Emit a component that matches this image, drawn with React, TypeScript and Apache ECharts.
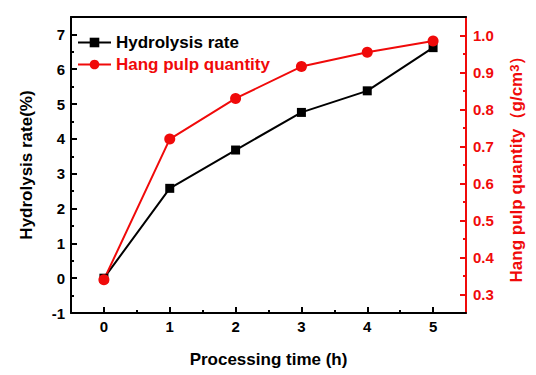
import React, { useEffect, useRef } from "react";
import * as echarts from "echarts";

const times = [0, 1, 2, 3, 4, 5];
const hydrolysisRate = [0, 2.58, 3.68, 4.76, 5.38, 6.62];
const hangPulp = [0.34, 0.72, 0.83, 0.916, 0.955, 0.985];
const xTicks = [0, 1, 2, 3, 4, 5];
const xMinorTicks = [0.5, 1.5, 2.5, 3.5, 4.5];
const rightTicks = [0.3, 0.4, 0.5, 0.6, 0.7, 0.8, 0.9, 1.0];
const rightMinorTicks = [0.35, 0.45, 0.55, 0.65, 0.75, 0.85, 0.95];

const FONT = "'Liberation Sans', Arial, sans-serif";
const RED = "#f00a0a";

export default function App() {
  const ref = useRef<HTMLDivElement>(null);
  useEffect(() => {
    document.body.style.margin = "0";
    const chart = echarts.init(ref.current!, null, { renderer: "svg" });
    const tickLabel = { fontFamily: FONT, fontWeight: "bold" as const, fontSize: 15, color: "#000" };
    chart.setOption({
      animation: false,
      backgroundColor: "#fff",
      textStyle: { fontFamily: FONT },
      grid: { left: 71, right: 70, top: 17, bottom: 62, containLabel: false },
      legend: {
        orient: "vertical",
        left: 77,
        top: 34,
        padding: 0,
        itemWidth: 33,
        itemHeight: 12,
        itemGap: 5,
        textStyle: { fontFamily: FONT, fontWeight: "bold", fontSize: 17 },
        data: [
          { name: "Hydrolysis rate", textStyle: { color: "#000" } },
          { name: "Hang pulp quantity", textStyle: { color: RED } },
        ],
      },
      xAxis: [
        {
          type: "value",
          min: -0.5,
          max: 5.5,
          position: "bottom",
          name: "Processing time (h)",
          nameLocation: "middle",
          nameGap: 38,
          nameTextStyle: { fontFamily: FONT, fontWeight: "bold", fontSize: 17, color: "#000", verticalAlign: "top" },
          axisLine: { show: true, onZero: false, lineStyle: { color: "#000", width: 2 } },
          axisTick: { show: true, inside: true, length: 6, lineStyle: { width: 2, color: "#000" }, customValues: xTicks },
          axisLabel: { ...tickLabel, margin: 6, customValues: xTicks },
          splitLine: { show: false },
        },
        {
          type: "value",
          min: -0.5,
          max: 5.5,
          position: "bottom",
          axisLine: { show: false, onZero: false },
          axisTick: { show: true, inside: true, length: 3, lineStyle: { width: 2, color: "#000" }, customValues: xMinorTicks },
          axisLabel: { show: false },
          splitLine: { show: false },
        },
        {
          type: "value",
          min: -0.5,
          max: 5.5,
          position: "top",
          axisLine: { show: true, onZero: false, lineStyle: { color: "#000", width: 2 } },
          axisTick: { show: false },
          axisLabel: { show: false },
          splitLine: { show: false },
        },
      ],
      yAxis: [
        {
          type: "value",
          min: -1,
          max: 7.5,
          interval: 1,
          position: "left",
          name: "Hydrolysis rate(%)",
          nameLocation: "middle",
          nameRotate: 90,
          nameGap: 36,
          nameTextStyle: { fontFamily: FONT, fontWeight: "bold", fontSize: 17, color: "#000" },
          axisLine: { show: true, onZero: false, lineStyle: { color: "#000", width: 2 } },
          axisTick: { show: true, inside: true, length: 6, lineStyle: { width: 2, color: "#000" } },
          minorTick: { show: true, splitNumber: 2, length: 3, lineStyle: { width: 2, color: "#000" } },
          axisLabel: { ...tickLabel, margin: 6, formatter: (v: number) => (v > 7 ? "" : String(v)) },
          splitLine: { show: false },
          minorSplitLine: { show: false },
        },
        {
          type: "value",
          min: 0.25,
          max: 1.05,
          position: "right",
          name: "Hang pulp quantity（g/cm{sup|3}）",
          nameLocation: "middle",
          nameRotate: 90,
          nameGap: 42,
          nameTextStyle: {
            fontFamily: FONT,
            fontWeight: "bold",
            fontSize: 17,
            color: RED,
            rich: {
              sup: { fontFamily: FONT, fontWeight: "bold", fontSize: 13, color: RED, verticalAlign: "top", lineHeight: 13 },
            },
          },
          axisLine: { show: true, onZero: false, lineStyle: { color: RED, width: 2 } },
          axisTick: { show: true, inside: true, length: 6, lineStyle: { width: 2, color: RED }, customValues: rightTicks },
          axisLabel: {
            ...tickLabel,
            color: RED,
            margin: 7,
            customValues: rightTicks,
            formatter: (v: number) => v.toFixed(1),
          },
          splitLine: { show: false },
        },
        {
          type: "value",
          min: 0.25,
          max: 1.05,
          position: "right",
          axisLine: { show: false, onZero: false },
          axisTick: { show: true, inside: true, length: 3, lineStyle: { width: 2, color: RED }, customValues: rightMinorTicks },
          axisLabel: { show: false },
          splitLine: { show: false },
        },
      ],
      series: [
        {
          name: "Hydrolysis rate",
          type: "line",
          xAxisIndex: 0,
          yAxisIndex: 0,
          data: times.map((t, i) => [t, hydrolysisRate[i]]),
          symbol: "rect",
          symbolSize: 9,
          itemStyle: { color: "#000" },
          lineStyle: { color: "#000", width: 2 },
        },
        {
          name: "Hang pulp quantity",
          type: "line",
          xAxisIndex: 0,
          yAxisIndex: 1,
          data: times.map((t, i) => [t, hangPulp[i]]),
          symbol: "circle",
          symbolSize: 11,
          itemStyle: { color: RED },
          lineStyle: { color: RED, width: 2 },
        },
      ],
    });
    return () => chart.dispose();
  }, []);
  return <div ref={ref} style={{ width: 536, height: 375 }} />;
}
